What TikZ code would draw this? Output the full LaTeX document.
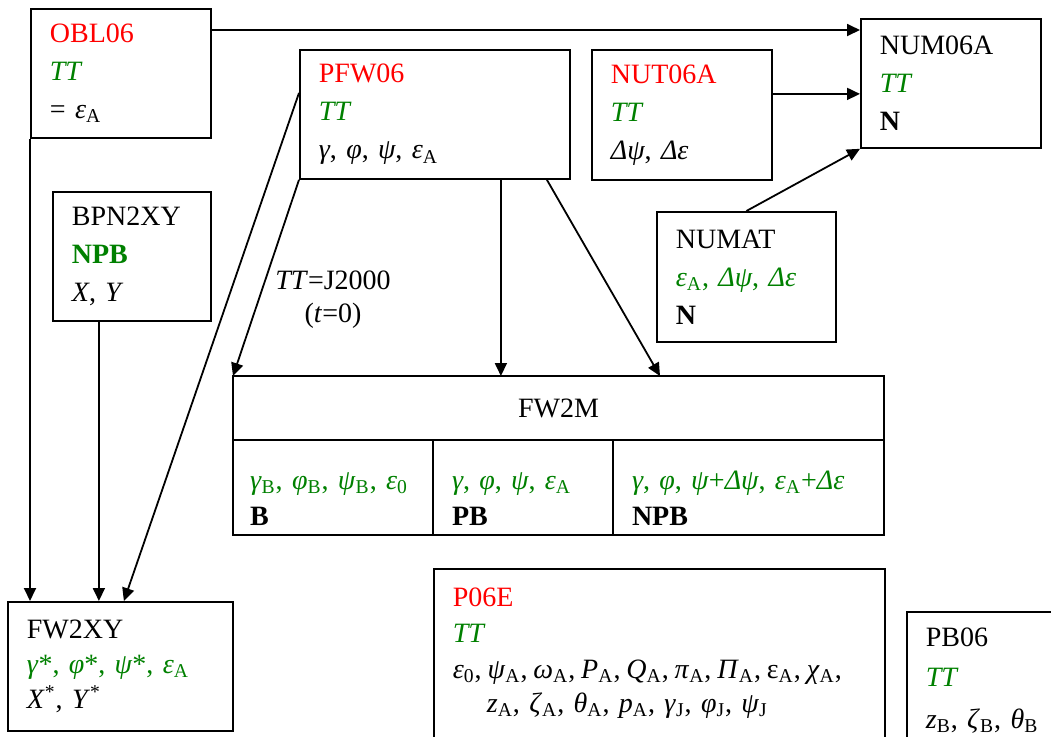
\documentclass[tikz,border=0pt]{standalone}
\usepackage{fontspec}
\setmainfont{Liberation Serif}
\usetikzlibrary{arrows.meta,positioning}
\definecolor{fnred}{RGB}{255,0,0}
\definecolor{fngreen}{RGB}{0,128,0}
\newcommand{\lo}[1]{\textsubscript{#1}}
\newcommand{\red}[1]{{\color{fnred}#1}}
\newcommand{\grn}[1]{{\color{fngreen}#1}}
\begin{document}
\begin{tikzpicture}[x=0.5pt,y=-0.5pt,
    font=\fontsize{14}{19}\selectfont,
    box/.style={draw,line width=0.9pt,anchor=north west,align=left,inner xsep=9.5pt,inner ysep=0pt},
    cell/.style={draw,line width=0.9pt,outer sep=0pt,anchor=north west,align=left,inner xsep=8.5pt,minimum height=47.5pt},
    arr/.style={line width=0.9pt,-{Triangle[length=6.5pt,width=6pt]}}]
        \useasboundingbox (0,0) rectangle (1051,736);
        \clip (0,0) rectangle (1051,736);

        % Routines
        \node[box,text width=71pt,minimum height=64.5pt] (obl) at (30,8)
            {\red{OBL06}\\ \grn{\textit{TT}}\\ = \textit{ε}\lo{A}};
        \node[box,text width=116pt,minimum height=64.5pt] (pfw) at (299,49)
            {\red{PFW06}\\ \grn{\textit{TT}}\\ \textit{γ}, \textit{φ}, \textit{ψ}, \textit{ε}\lo{A}};
        \node[box,text width=71pt,minimum height=65pt] (nut) at (591,49)
            {\red{NUT06A}\\ \grn{\textit{TT}}\\ \textit{Δψ}, \textit{Δε}};
        \node[box,text width=71pt,minimum height=64.5pt] (num) at (860,18)
            {NUM06A\\ \grn{\textit{TT}}\\ \textbf{N}};
        \node[box,text width=70.5pt,minimum height=65pt] (numat) at (656,211)
            {NUMAT\\ \grn{\textit{ε}\lo{A}, \textit{Δψ}, \textit{Δε}}\\ \textbf{N}};
        \node[box,text width=60pt,minimum height=64.5pt] (bpn) at (52,191)
            {BPN2XY\\ \grn{\textbf{NPB}}\\ \textit{X}, \textit{Y}};
        \node[box,text width=93.5pt,minimum height=64.5pt] (fwxy) at (7,601)
            {FW2XY\\[-1.5pt] \grn{\textit{γ}*, \textit{φ}*, \textit{ψ}*, \textit{ε}\lo{A}}\\[-1.5pt]
             \textit{X}\textsuperscript{*}, \textit{Y}\textsuperscript{*}};

        % FW2M table
        \node[draw,line width=0.9pt,outer sep=0pt,anchor=north west,minimum width=325.5pt,minimum height=32pt] (fwm) at (233,376) {FW2M};
        \node[cell,text width=83pt] (cb) at (fwm.south west)
            {\rule{0pt}{20pt}\grn{\textit{γ}\lo{B}, \textit{φ}\lo{B}, \textit{ψ}\lo{B}, \textit{ε}\lo{0}}\\[-1pt] \textbf{B}};
        \node[cell,inner xsep=9.5pt,text width=71pt] (cpb) at (cb.north east)
            {\rule{0pt}{20pt}\grn{\textit{γ}, \textit{φ}, \textit{ψ}, \textit{ε}\lo{A}}\\[-1pt] \textbf{PB}};
        \node[cell,inner xsep=9.5pt,text width=116.5pt] (cnpb) at (cpb.north east)
            {\rule{0pt}{20pt}\grn{\textit{γ}, \textit{φ}, \textit{ψ}+\textit{Δψ}, \textit{ε}\lo{A}+\textit{Δε}}\\[-1pt] \textbf{NPB}};

        % Boxes cut by the lower edge
        \node[box,text width=206.5pt,inner ysep=9.25pt] (pe) at (433,568)
            {\red{P06E}\\[-1pt] \grn{\textit{TT}}\\[-1pt]
             \mbox{\spaceskip=0.21em plus 0.05em\textit{ε}\lo{0}, \textit{ψ}\lo{A}, \textit{ω}\lo{A}, \textit{P}\lo{A}, \textit{Q}\lo{A}, \textit{π}\lo{A}, \textit{Π}\lo{A}, ε\lo{A}, \textit{χ}\lo{A},}\\[-2pt]
             \hspace*{17pt}\textit{z}\lo{A}, \textit{ζ}\lo{A}, \textit{θ}\lo{A}, \textit{p}\lo{A}, \textit{γ}\lo{J}, \textit{φ}\lo{J}, \textit{ψ}\lo{J}\rule[-20pt]{0pt}{0pt}};
        \node[box,text width=90pt,inner ysep=7.75pt] (pb) at (906,611)
            {PB06\\[1pt] \grn{\textit{TT}}\\[2pt] \textit{z}\lo{B}, \textit{ζ}\lo{B}, \textit{θ}\lo{B}\rule[-20pt]{0pt}{0pt}};

        % Epoch label
        \node[align=center] (ep) at (333,300) {\textit{TT}=J2000\\[-2.5pt](\textit{t}=0)};

        % Connectors
        \coordinate (p1) at ([xshift=33pt]pfw.south);
        \coordinate (b1) at ([xshift=-16.5pt]bpn.south);
        \draw[arr] ([yshift=-11pt]obl.north east) -- ([yshift=-6pt]num.north west);
        \draw[arr] ([yshift=10.5pt]nut.east) -- ([yshift=-5.25pt]num.west);
        \draw[arr] (numat.north) -- (num.south west);
        \draw[arr] (pfw.south west) -- (fwm.north west);
        \draw[arr] (p1) -- (p1 |- fwm.north);
        \draw[arr] ([xshift=56pt]pfw.south) -- ([xshift=50.75pt]fwm.north);
        \draw[arr] ([yshift=10.75pt]pfw.west) -- ([xshift=1.75pt]fwxy.north);
        \draw[arr] (obl.south west) -- (obl.south west |- fwxy.north);
        \draw[arr] (b1) -- (b1 |- fwxy.north);
    \end{tikzpicture}
\end{document}
